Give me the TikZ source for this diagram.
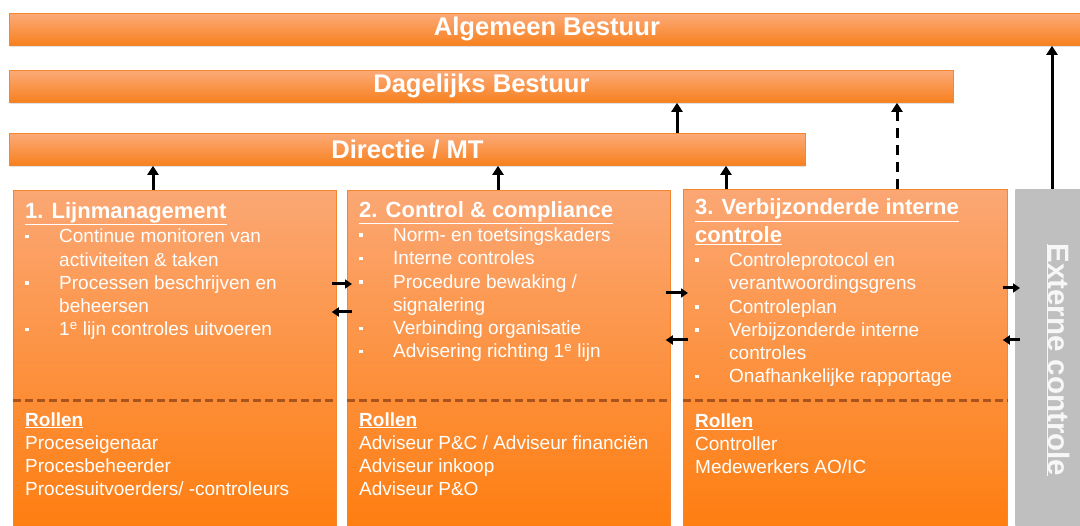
\documentclass[tikz,border=0pt]{standalone}
\usepackage{fontspec}
\setmainfont{Liberation Sans}
\usetikzlibrary{arrows.meta,shadows}

\definecolor{balkboven}{HTML}{FCAA78}
\definecolor{balkonder}{HTML}{F7801E}
\definecolor{oranjerand}{HTML}{F3862F}
\definecolor{vakboven}{HTML}{FBA774}
\definecolor{vakmidden}{HTML}{F99455}
\definecolor{vakonder}{HTML}{FE7D0E}
\definecolor{scheidbruin}{HTML}{A9541A}
\definecolor{grijsvak}{HTML}{BFBFBF}

\newcommand{\opsom}[1]{\makebox[34pt][l]{\rule[4.5pt]{3.5pt}{3.5pt}}#1}
\newcommand{\vervolg}[1]{\hspace*{34pt}#1}
\newcommand{\titel}[1]{{\fontsize{22}{24}\selectfont\bfseries\underline{#1}}}

\tikzset{balk/.style = {draw=oranjerand, line width=0.8pt, top color=balkboven, bottom color=balkonder,
                        minimum height=32pt, inner sep=0pt, text=white,
                        font=\fontsize{25.6}{30}\selectfont\bfseries,
                        drop shadow={opacity=0.25, shadow xshift=0.5pt, shadow yshift=-2pt}},
         vak/.style = {draw=oranjerand, line width=0.8pt, top color=vakboven, middle color=vakmidden,
                       bottom color=vakonder, minimum width=#1, minimum height=345pt,
                       anchor=north west, inner sep=0pt},
         vak/.default=323pt,
         % base = basislijn van de laatste regel
         tekst/.style = {anchor=base west, inner sep=0pt, align=left, text=white,
                         font=\fontsize{19}{23.3}\selectfont},
         pijl/.style = {-{Triangle[length=9pt,width=11pt]}, line width=3pt},
         kort/.style = {pijl, -{Triangle[length=7pt,width=9pt]}, shorten <=-5pt, shorten >=-5pt},
         scheiding/.style = {draw=scheidbruin, line width=3pt, dash pattern=on 8pt off 4pt}
        }

\begin{document}
\begin{tikzpicture}[x=1pt, y=-1pt]
\useasboundingbox (0,0) rectangle (1080,526);

% bestuurslagen
\node[balk, minimum width=1075pt, anchor=north west] (algbest) at (9,13) {Algemeen Bestuur};
\node[balk, minimum width=944pt, anchor=north west] (dagbest) at (9,70) {Dagelijks Bestuur};
\node[balk, minimum width=796pt, anchor=north west] (dirmt) at (9,133) {Directie / MT};

% drie lijnen en externe controle
\node[vak] (lijn) at (13,190) {};
\node[vak] (control) at (347,190) {};
\node[vak=324pt] (vic) at (683,189) {};
\node[vak=70pt, draw=none, top color=grijsvak, bottom color=grijsvak] (extern) at (1015,189) {};
\node[rotate=-90, text=white!94!gray, inner sep=0pt, font=\fontsize{29.5}{32}\selectfont\bfseries] (extlabel) at (1058,360) {\underline{Externe controle}};

\foreach \v in {lijn, control, vic}
   \draw[scheiding] (\v.west |- 0,401) -- (\v.east |- 0,401);

% teksten
\node[tekst] (lijntekst) at (25,336)
   {\titel{1. Lijnmanagement}\\[1pt]
    \opsom{Continue monitoren van}\\ \vervolg{activiteiten \& taken}\\
    \opsom{Processen beschrijven en}\\ \vervolg{beheersen}\\
    \opsom{1\textsuperscript{e} lijn controles uitvoeren}};
\node[tekst] (controltekst) at (359,358)
   {\titel{2. Control \& compliance}\\[1pt]
    \opsom{Norm- en toetsingskaders}\\ \opsom{Interne controles}\\
    \opsom{Procedure bewaking /}\\ \vervolg{signalering}\\
    \opsom{Verbinding organisatie}\\ \opsom{Advisering richting 1\textsuperscript{e} lijn}};
\node[tekst] (victekst) at (695,383)
   {\titel{3. Verbijzonderde interne}\\[4pt] \titel{controle}\\[1pt]
    \opsom{Controleprotocol en}\\ \vervolg{verantwoordingsgrens}\\
    \opsom{Controleplan}\\ \opsom{Verbijzonderde interne}\\ \vervolg{controles}\\
    \opsom{Onafhankelijke rapportage}};

\node[tekst] (lijnrol) at (25,496)
   {\textbf{\underline{Rollen}}\\ Proceseigenaar\\ Procesbeheerder\\ Procesuitvoerders/ -controleurs};
\node[tekst] (controlrol) at (359,496)
   {\textbf{\underline{Rollen}}\\ Adviseur P\&C / Adviseur financiën\\ Adviseur inkoop\\ Adviseur P\&O};
\node[tekst] (vicrol) at (695,474)
   {\textbf{\underline{Rollen}}\\ Controller\\ Medewerkers AO/IC};

% verantwoording omhoog
\foreach \x/\van/\naar in {153/lijn/dirmt, 498/control/dirmt, 726/vic/dirmt, 677/dirmt/dagbest, 1052/extern/algbest}
   \draw[pijl] (\x,0 |- \van.north) -- (\x,0 |- \naar.south);
\draw[pijl, dash pattern=on 10pt off 7pt] (897,0 |- vic.north) -- (897,0 |- dagbest.south);

% afstemming tussen de lijnen
\foreach \a/\b/\heen/\terug in {lijn/control/284/312, control/vic/293/340, vic/extern/288/340}
   {\draw[kort] (\a.east |- 0,\heen) -- (\b.west |- 0,\heen);
    \draw[kort] (\b.west |- 0,\terug) -- (\a.east |- 0,\terug);};
\end{tikzpicture}
\end{document}
